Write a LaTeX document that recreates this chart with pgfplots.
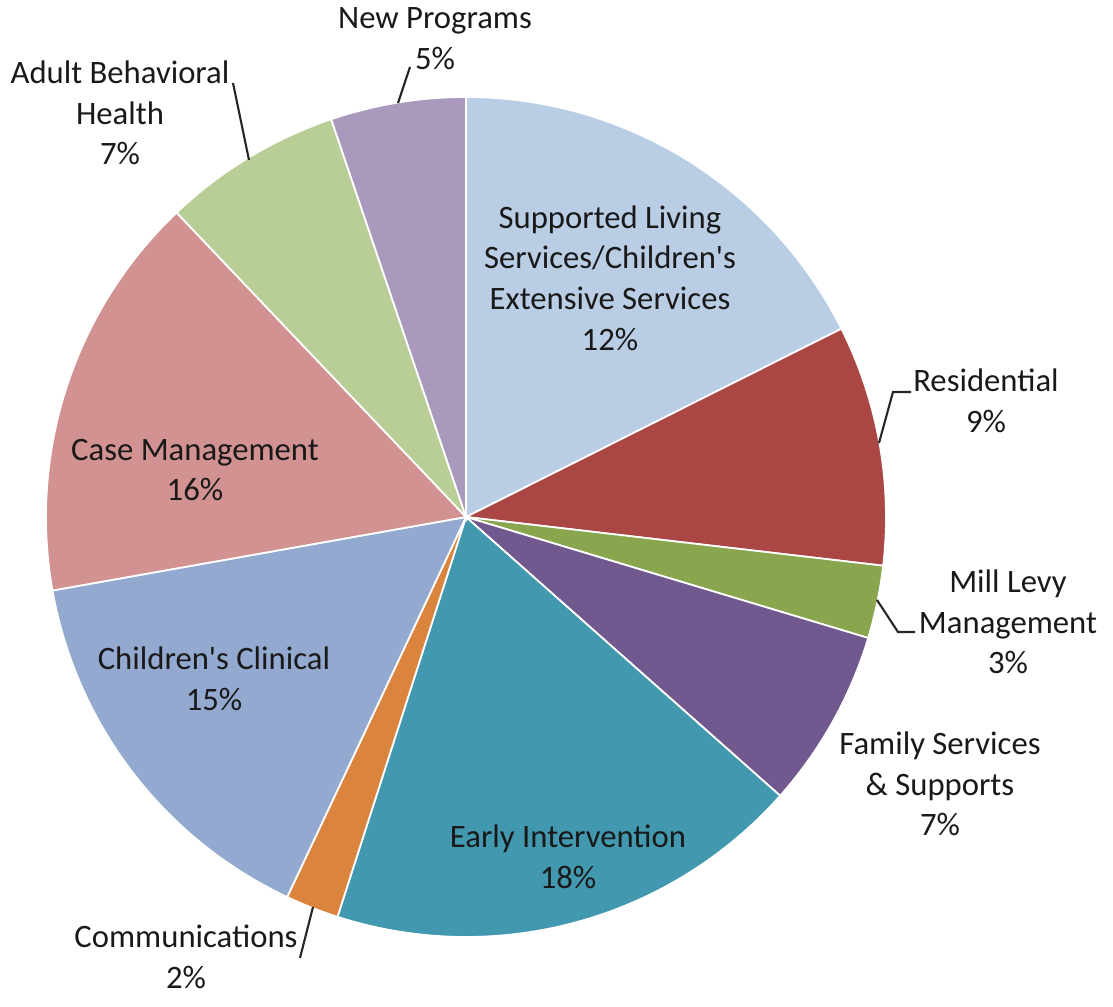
\documentclass[border=0pt]{standalone}
\usepackage{pgfplots}
\pgfplotsset{compat=1.18}
\usepackage{fontspec}
\setmainfont{Carlito}[Ligatures=TeXOff]
\definecolor{cSL}{RGB}{185,205,229}
\definecolor{cRes}{RGB}{170,70,67}
\definecolor{cML}{RGB}{137,165,78}
\definecolor{cFS}{RGB}{113,88,143}
\definecolor{cEI}{RGB}{65,152,175}
\definecolor{cCom}{RGB}{219,132,61}
\definecolor{cCC}{RGB}{147,169,207}
\definecolor{cCM}{RGB}{209,146,145}
\definecolor{cABH}{RGB}{185,205,150}
\definecolor{cNP}{RGB}{169,154,189}
\tikzset{lbl/.style={font=\fontsize{9.3}{11.6}\selectfont, align=center, text=black!90}}
\begin{document}
\begin{tikzpicture}
\begin{axis}[
  scale only axis, width=11.13cm, height=10.07cm,
  xmin=0, xmax=1113, ymin=0, ymax=1007,
  hide axis, clip=false,
  every axis plot/.append style={draw=white, line width=0.5pt, samples=60, no marks},
]
% slice shares (%): 17.6, 9.25, 2.8, 6.9, 18.4, 2.05, 15.2, 15.7, 6.9, 5.2 (clockwise from top)
\addplot[fill=cSL,  domain=26.64:90]      ({466+420*cos(x)},{490+420*sin(x)}) -- (axis cs:466,490) -- cycle;
\addplot[fill=cRes, domain=-6.66:26.64]   ({466+420*cos(x)},{490+420*sin(x)}) -- (axis cs:466,490) -- cycle;
\addplot[fill=cML,  domain=-16.74:-6.66]  ({466+420*cos(x)},{490+420*sin(x)}) -- (axis cs:466,490) -- cycle;
\addplot[fill=cFS,  domain=-41.58:-16.74] ({466+420*cos(x)},{490+420*sin(x)}) -- (axis cs:466,490) -- cycle;
\addplot[fill=cEI,  domain=-107.82:-41.58]({466+420*cos(x)},{490+420*sin(x)}) -- (axis cs:466,490) -- cycle;
\addplot[fill=cCom, domain=-115.2:-107.82]({466+420*cos(x)},{490+420*sin(x)}) -- (axis cs:466,490) -- cycle;
\addplot[fill=cCC,  domain=-169.92:-115.2]({466+420*cos(x)},{490+420*sin(x)}) -- (axis cs:466,490) -- cycle;
\addplot[fill=cCM,  domain=-226.44:-169.92]({466+420*cos(x)},{490+420*sin(x)}) -- (axis cs:466,490) -- cycle;
\addplot[fill=cABH, domain=-251.28:-226.44]({466+420*cos(x)},{490+420*sin(x)}) -- (axis cs:466,490) -- cycle;
\addplot[fill=cNP,  domain=-270:-251.28]  ({466+420*cos(x)},{490+420*sin(x)}) -- (axis cs:466,490) -- cycle;

% labels
\node[lbl] at (axis cs:610,729) {Supported Living\\Services/Children's\\Extensive Services\\12\%};
\node[lbl] at (axis cs:986,606) {Residential\\9\%};
\node[lbl] at (axis cs:1008,385) {Mill Levy\\Management\\3\%};
\node[lbl] at (axis cs:940,223) {Family Services\\\& Supports\\7\%};
\node[lbl] at (axis cs:568,150) {Early Intervention\\18\%};
\node[lbl] at (axis cs:186,50) {Communications\\2\%};
\node[lbl] at (axis cs:214,328) {Children's Clinical\\15\%};
\node[lbl] at (axis cs:195,537) {Case Management\\16\%};
\node[lbl] at (axis cs:120,894) {Adult Behavioral\\Health\\7\%};
\node[lbl] at (axis cs:435,968) {New Programs\\5\%};

% leader lines
\draw[black!85, line width=0.6pt] (axis cs:410,940) -- (axis cs:398,904);
\draw[black!85, line width=0.6pt] (axis cs:233,924) -- (axis cs:249,847);
\draw[black!85, line width=0.6pt] (axis cs:911,615) -- (axis cs:893,615) -- (axis cs:879,564);
\draw[black!85, line width=0.6pt] (axis cs:877,407) -- (axis cs:898,375) -- (axis cs:915,375);
\draw[black!85, line width=0.6pt] (axis cs:313,100) -- (axis cs:300,49);
\end{axis}
\pgfresetboundingbox
\path (current axis.south west) rectangle (current axis.north east);
\end{tikzpicture}
\end{document}
